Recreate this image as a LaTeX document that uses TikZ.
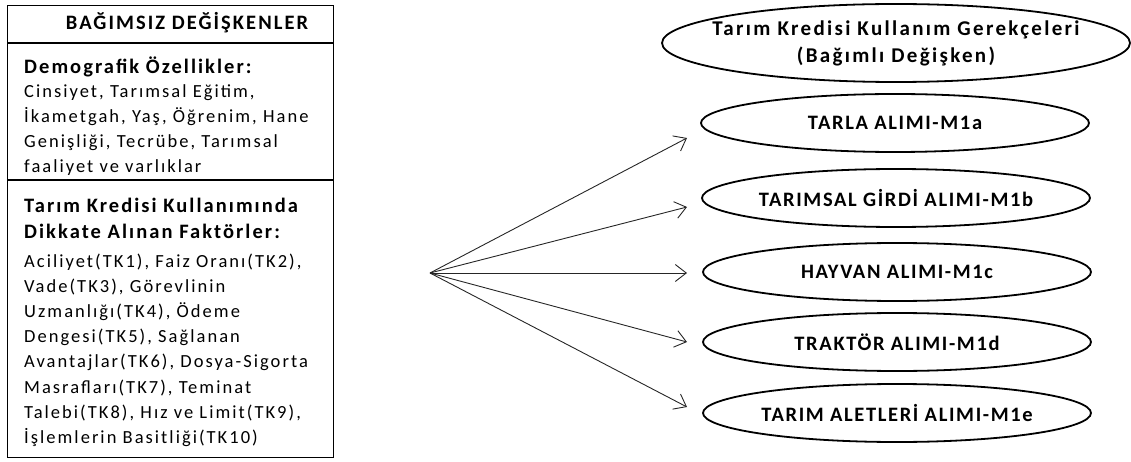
\documentclass[tikz,border=0pt]{standalone}
\usepackage{fontspec}
\setmainfont{Carlito}
\newfontfamily\hdfont[LetterSpace=10]{Carlito}
\newfontfamily\elfont[LetterSpace=8]{Carlito}
\newfontfamily\depfont[LetterSpace=11]{Carlito}
\newfontfamily\bdfont[LetterSpace=11]{Carlito}
\usetikzlibrary{arrows.meta,shapes.geometric}
\begin{document}
\begin{tikzpicture}[x=1pt,y=-1pt,
 ell/.style={draw, line width=1.8pt, ellipse, minimum width=388pt, minimum height=58pt, inner xsep=-30pt, inner ysep=0pt, font=\elfont\bfseries\fontsize{20.5}{27}\selectfont, align=center},
 arr/.style={-{Straight Barb[length=11pt,width=17pt,line width=0.9pt]}, line width=0.9pt, draw=black!85},
 hd/.style={font=\hdfont\bfseries\fontsize{20.5}{25}\selectfont, anchor=base west, inner sep=0pt},
 bd/.style={font=\bdfont\fontsize{18.5}{25}\selectfont, anchor=base west, inner sep=0pt},
 frame/.style={draw, line width=1.2pt}]
\useasboundingbox (0,0) rectangle (1131,462);
% left box
\node[frame, minimum width=326pt, minimum height=452pt, anchor=north west, inner sep=0pt] (box) at (7,5) {};
\draw[frame] (7,43) -- (333,43);
\draw[frame] (7,180) -- (333,180);
\node[font=\hdfont\bfseries\fontsize{20.5}{22}\selectfont, anchor=base, inner sep=0pt] (title) at (187,30) {BAĞIMSIZ DEĞİŞKENLER};
\node[hd] (h1) at (24,74) {Demografik Özellikler:};
\foreach [count=\i] \t in {{Cinsiyet, Tarımsal Eğitim,},{İkametgah, Yaş, Öğrenim, Hane},{Genişliği, Tecrübe, Tarımsal},{faaliyet ve varlıklar}}
  \node[bd] (d\i) at (24,{98+25*(\i-1)}) {\t};
\node[hd] (h2) at (24,213) {Tarım Kredisi Kullanımında};
\node[hd] (h3) at (24,239) {Dikkate Alınan Faktörler:};
\foreach [count=\i] \t in {{Aciliyet(TK1), Faiz Oranı(TK2),},{Vade(TK3), Görevlinin},{Uzmanlığı(TK4), Ödeme},{Dengesi(TK5), Sağlanan},{Avantajlar(TK6), Dosya-Sigorta},{Masrafları(TK7), Teminat},{Talebi(TK8), Hız ve Limit(TK9),},{İşlemlerin Basitliği(TK10)}}
  \node[bd] (f\i) at (24,{267+25.2*(\i-1)}) {\t};
% ellipses
\node[ell, minimum width=468pt, minimum height=78pt, font=\depfont\bfseries\fontsize{21}{27}\selectfont] (dep) at (896,43) {Tarım Kredisi Kullanım Gerekçeleri\\(Bağımlı Değişken)};
\node[ell] (m1) at (895,123) {TARLA ALIMI-M1a};
\node[ell] (m2) at (896,198) {TARIMSAL GİRDİ ALIMI-M1b};
\node[ell] (m3) at (897,272) {HAYVAN ALIMI-M1c};
\node[ell] (m4) at (897,342) {TRAKTÖR ALIMI-M1d};
\node[ell] (m5) at (897,413) {TARIM ALETLERİ ALIMI-M1e};
% arrows
\coordinate (hub) at (430,273);
\coordinate (t1) at (687,138);
\coordinate (t2) at (687,207);
\coordinate (t3) at (687,273);
\coordinate (t4) at (687,342);
\coordinate (t5) at (687,407);
\foreach \k in {1,...,5} \draw[arr] (hub) -- (t\k);
\end{tikzpicture}
\end{document}
